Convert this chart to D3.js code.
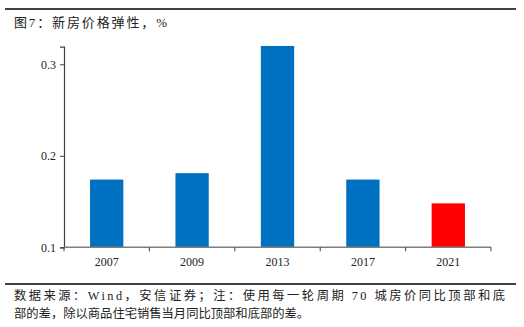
<!DOCTYPE html>
<html>
<head>
<meta charset="utf-8">
<script src="https://cdn.jsdelivr.net/npm/d3@7/dist/d3.min.js"></script>
<style>
  html, body { margin: 0; padding: 0; background: #fff; }
  svg { display: block; }
  .cjk { font-family: "Liberation Serif", "Noto Sans CJK SC", serif; }
  .num { font-family: "Liberation Serif", "Times New Roman", serif; }
</style>
</head>
<body>
<svg id="chart" width="524" height="327"></svg>
<script>
// 新房价格弹性（每轮周期）
const years = ["2007", "2009", "2013", "2017", "2021"];
const elasticity = [0.174, 0.181, 0.320, 0.174, 0.148];
const yTicks = [0.1, 0.2, 0.3];
const barColors = ["#0070C0", "#0070C0", "#0070C0", "#0070C0", "#FF0000"];

const titleText = "图7：新房价格弹性，%";
const noteLines = [
  "数据来源：Wind，安信证券；注：使用每一轮周期 70 城房价同比顶部和底",
  "部的差，除以商品住宅销售当月同比顶部和底部的差。"
];

const svg = d3.select("#chart");

const plot = { left: 64, right: 491, top: 46.7, bottom: 247.3 };

const x = d3.scaleBand()
  .domain(years)
  .range([plot.left, plot.right])
  .paddingInner(0.61)
  .paddingOuter(0.305);

const y = d3.scaleLinear()
  .domain([0.1, 0.3192])
  .range([plot.bottom, plot.top]);

// header rule and title
svg.append("line")
  .attr("x1", 5).attr("x2", 516).attr("y1", 9).attr("y2", 9)
  .attr("stroke", "#000").attr("stroke-width", 1.3);

svg.append("text")
  .attr("class", "cjk")
  .attr("x", 14).attr("y", 27)
  .attr("font-size", 13)
  .attr("fill", "#222")
  .attr("textLength", 153)
  .attr("lengthAdjust", "spacing")
  .text(titleText);

// bars
svg.append("g")
  .selectAll("rect")
  .data(years)
  .join("rect")
  .attr("x", d => x(d))
  .attr("width", x.bandwidth())
  .attr("y", (d, i) => y(elasticity[i]))
  .attr("height", (d, i) => y(0.1) - y(elasticity[i]))
  .attr("fill", (d, i) => barColors[i]);

const axisColor = "#7f7f7f";

// y axis
const yAxis = svg.append("g")
  .attr("transform", `translate(${plot.left},0)`)
  .call(d3.axisLeft(y).tickValues(yTicks).tickFormat(d3.format(".1f")).tickSizeOuter(0).tickSize(4));
yAxis.select(".domain").attr("stroke", "#404040").attr("stroke-width", 1.2);
yAxis.selectAll(".tick line").attr("stroke", "#404040");
yAxis.selectAll(".tick text")
  .attr("class", "num")
  .attr("font-size", 12)
  .attr("fill", "#222")
  .attr("x", -8)
  .attr("dy", "0.35em");

// x axis: baseline with ticks at band boundaries
const xAxisG = svg.append("g");
xAxisG.append("line")
  .attr("x1", plot.left).attr("x2", plot.right)
  .attr("y1", y(0.1)).attr("y2", y(0.1))
  .attr("stroke", axisColor).attr("stroke-width", 1.6);

const step = x.step();
const bounds = d3.range(years.length + 1).map(i => plot.left + i * step);
xAxisG.selectAll("line.tick")
  .data(bounds)
  .join("line")
  .attr("class", "tick")
  .attr("x1", d => d).attr("x2", d => d)
  .attr("y1", y(0.1)).attr("y2", y(0.1) + 4)
  .attr("stroke", "#404040").attr("stroke-width", 1);

xAxisG.selectAll("text")
  .data(years)
  .join("text")
  .attr("class", "num")
  .attr("x", d => x(d) + x.bandwidth() / 2)
  .attr("y", 266)
  .attr("text-anchor", "middle")
  .attr("font-size", 12)
  .attr("fill", "#222")
  .text(d => d);

// footer rule and note (first line justified to the full width)
svg.append("line")
  .attr("x1", 5).attr("x2", 516).attr("y1", 284).attr("y2", 284)
  .attr("stroke", "#000").attr("stroke-width", 1.3);

svg.append("g")
  .selectAll("text")
  .data(noteLines)
  .join("text")
  .attr("class", "cjk")
  .attr("x", 14)
  .attr("y", (d, i) => 300 + i * 18)
  .attr("font-size", 12.3)
  .attr("fill", "#222")
  .each(function (d, i) {
    if (i === 0) {
      d3.select(this).attr("textLength", 491).attr("lengthAdjust", "spacing");
    }
  })
  .text(d => d);
</script>
</body>
</html>
